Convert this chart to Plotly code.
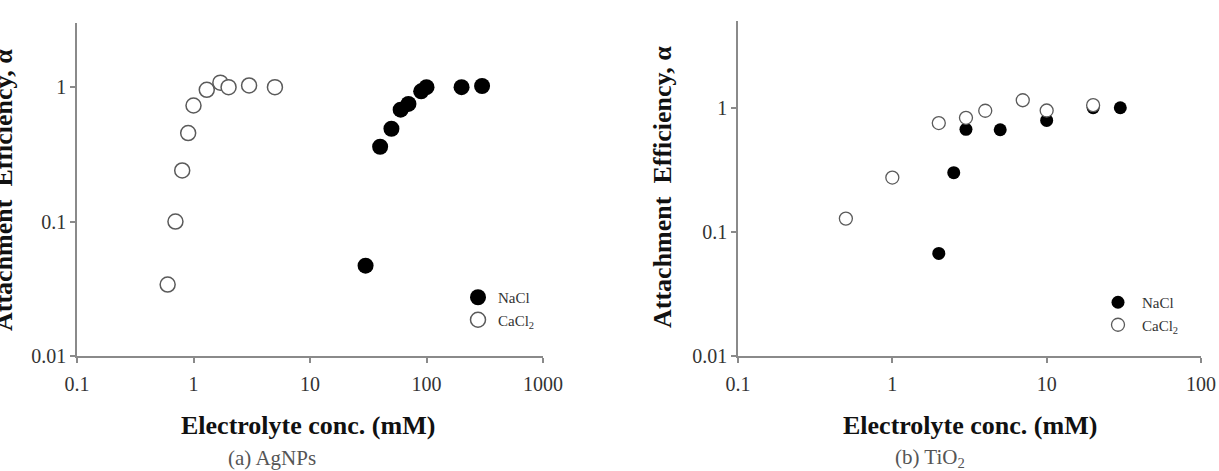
import plotly.graph_objects as go

# ---- data: (a) AgNPs ----
ag_nacl_x = [30, 40, 50, 60, 70, 90, 100, 200, 300]
ag_nacl_y = [0.047, 0.36, 0.49, 0.68, 0.75, 0.93, 1.0, 1.0, 1.02]
ag_cacl_x = [0.6, 0.7, 0.8, 0.9, 1.0, 1.3, 1.7, 2.0, 3.0, 5.0]
ag_cacl_y = [0.034, 0.1, 0.24, 0.455, 0.73, 0.955, 1.08, 1.0, 1.03, 1.0]

# ---- data: (b) TiO2 ----
ti_nacl_x = [2, 2.5, 3, 5, 10, 20, 30]
ti_nacl_y = [0.067, 0.30, 0.67, 0.665, 0.79, 1.0, 1.0]
ti_cacl_x = [0.5, 1, 2, 3, 4, 7, 10, 20]
ti_cacl_y = [0.128, 0.274, 0.753, 0.83, 0.946, 1.15, 0.95, 1.05]

ax_ticks_a = [0.1, 1, 10, 100, 1000]
ax_ticks_b = [0.1, 1, 10, 100]
y_ticks = [0.01, 0.1, 1]

SERIF = "Liberation Serif"
AXC = "#8a8a8a"
OPEN_C = "#5a5a5a"

fig = go.Figure()

fig.add_trace(go.Scatter(x=ag_nacl_x, y=ag_nacl_y, mode="markers", name="NaCl",
                         marker=dict(size=16, color="black", line=dict(width=0)),
                         xaxis="x", yaxis="y", legend="legend", legendgroup="a1"))
fig.add_trace(go.Scatter(x=ag_cacl_x, y=ag_cacl_y, mode="markers", name="CaCl<sub>2</sub>",
                         marker=dict(size=15, color="white", line=dict(width=1.5, color=OPEN_C)),
                         xaxis="x", yaxis="y", legend="legend", legendgroup="a2"))
fig.add_trace(go.Scatter(x=ti_nacl_x, y=ti_nacl_y, mode="markers", name="NaCl",
                         marker=dict(size=13, color="black", line=dict(width=0)),
                         xaxis="x2", yaxis="y2", legend="legend2", legendgroup="b1"))
fig.add_trace(go.Scatter(x=ti_cacl_x, y=ti_cacl_y, mode="markers", name="CaCl<sub>2</sub>",
                         marker=dict(size=13, color="white", line=dict(width=1.3, color=OPEN_C)),
                         xaxis="x2", yaxis="y2", legend="legend2", legendgroup="b2"))

W, H = 1219, 471

def xax(dom, ticks, rng, anchor):
    return dict(type="log", range=rng, domain=dom, anchor=anchor, automargin=False,
                showline=True, linecolor=AXC, linewidth=1.5, mirror=False,
                ticks="outside", ticklen=5, tickcolor=AXC, tickwidth=1.5,
                tickvals=ticks, ticktext=[("%g" % t) for t in ticks],
                ticklabelstandoff=4,
                showgrid=False, zeroline=False,
                tickfont=dict(family=SERIF, size=20, color="#333"))

def yax(dom, rng, anchor):
    return dict(type="log", range=rng, domain=dom, anchor=anchor, automargin=False,
                showline=True, linecolor=AXC, linewidth=1.5,
                ticks="outside", ticklen=5, tickcolor=AXC, tickwidth=1.5,
                tickvals=y_ticks, ticktext=["0.01", "0.1", "1"],
                showgrid=False, zeroline=False,
                tickfont=dict(family=SERIF, size=20, color="#333"))

legend_common = dict(font=dict(family=SERIF, size=15, color="#333"),
                     bgcolor="rgba(0,0,0,0)", borderwidth=0,
                     itemsizing="trace", xanchor="left", yanchor="top")

fig.update_layout(
    width=W, height=H,
    margin=dict(l=0, r=0, t=0, b=0, pad=0, autoexpand=False),
    paper_bgcolor="white", plot_bgcolor="white",
    xaxis=xax([77 / W, 543 / W], ax_ticks_a, [-1, 3], "y"),
    yaxis=yax([(H - 356) / H, (H - 23) / H], [-2, 0.477], "x"),
    xaxis2=xax([738 / W, 1201 / W], ax_ticks_b, [-1, 2], "y2"),
    yaxis2=yax([(H - 356) / H, (H - 21) / H], [-2, 0.699], "x2"),
    legend=dict(x=458 / W, y=1 - 281 / H, tracegroupgap=0, **legend_common),
    legend2=dict(x=1094 / W, y=1 - 286 / H, tracegroupgap=0, itemwidth=38, **legend_common),
    showlegend=True,
)

title_font = dict(family=SERIF, size=26, color="#111")
ytitle_font = dict(family=SERIF, size=26, color="#111")
cap_font = dict(family=SERIF, size=21, color="#555")
ann = [
    dict(text="<b>Electrolyte conc. (mM)</b>", x=308 / W, y=1 - 425 / H, font=title_font),
    dict(text="<b>Electrolyte conc. (mM)</b>", x=970 / W, y=1 - 425 / H, font=title_font),
    dict(text="<b>Attachment&nbsp; Efficiency, α</b>", x=3 / W, y=1 - 190 / H, textangle=-90, font=ytitle_font),
    dict(text="<b>Attachment&nbsp; Efficiency, α</b>", x=662 / W, y=1 - 187 / H, textangle=-90, font=ytitle_font),
    dict(text="(a) AgNPs", x=272 / W, y=1 - 458 / H, font=cap_font),
    dict(text="(b) TiO<sub>2</sub>", x=930 / W, y=1 - 458 / H, font=cap_font),
]
for a in ann:
    a.update(xref="paper", yref="paper", showarrow=False, xanchor="center", yanchor="middle")
    fig.add_annotation(**a)

fig.write_html("out.html")
